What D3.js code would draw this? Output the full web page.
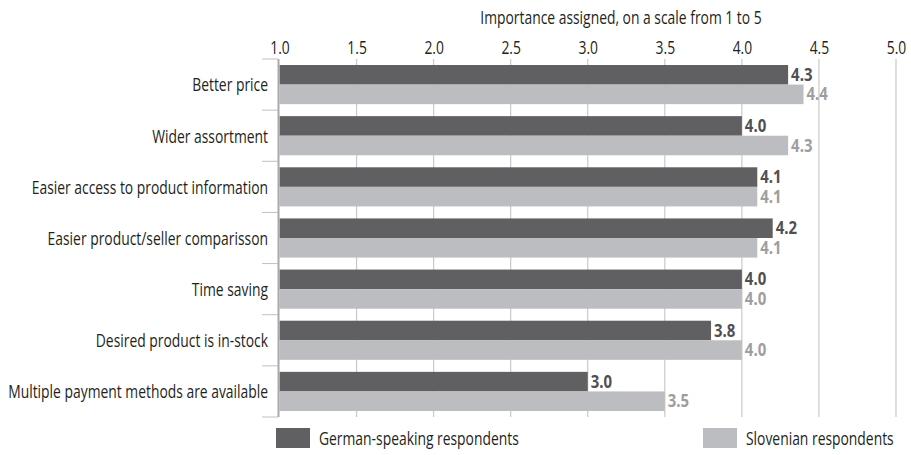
<!DOCTYPE html>
<html>
<head>
<meta charset="utf-8">
<script src="https://cdn.jsdelivr.net/npm/d3@7"></script>
<style>
  html, body { margin: 0; padding: 0; background: #fff; }
  svg { display: block; }
  text { font-family: "Open Sans", "Noto Sans", sans-serif; }
</style>
</head>
<body>
<svg id="chart" width="911" height="455"></svg>
<script>
// Reasons for shopping online, importance on a 1–5 scale
const categories = [
  "Better price",
  "Wider assortment",
  "Easier access to product information",
  "Easier product/seller comparisson",
  "Time saving",
  "Desired product is in-stock",
  "Multiple payment methods are available"
];
const germanValues = [4.3, 4.0, 4.1, 4.2, 4.0, 3.8, 3.0];
const slovenianValues = [4.4, 4.3, 4.1, 4.1, 4.0, 4.0, 3.5];
const seriesNames = ["German-speaking respondents", "Slovenian respondents"];
const xTicks = [1.0, 1.5, 2.0, 2.5, 3.0, 3.5, 4.0, 4.5, 5.0];
const axisTitle = "Importance assigned, on a scale from 1 to 5";

const colors = { de: "#606062", sl: "#bcbdc0" };
const labelColors = { de: "#505052", sl: "#9d9ea1" };
const textColor = "#231f20";

const svg = d3.select("#chart");

// Narrow a text selection horizontally around its anchor to mimic a condensed face
function condense(sel, factor) {
  sel.each(function () {
    const ax = +(this.getAttribute("x") || 0);
    d3.select(this).attr("transform", `translate(${ax},0) scale(${factor},1) translate(${-ax},0)`);
  });
}

const x = d3.scaleLinear().domain([1, 5]).range([279.5, 896]);
const y = d3.scaleBand().domain(categories).range([59, 417])
  .paddingInner(0.2346).paddingOuter(0.1173);
const sub = d3.scaleBand().domain(["de", "sl"]).range([0, y.bandwidth()]);

const rows = categories.map((c, i) => ({
  cat: c,
  vals: [{ key: "de", v: germanValues[i] }, { key: "sl", v: slovenianValues[i] }]
}));

// vertical gridlines
svg.append("g").selectAll("line").data(xTicks.slice(1)).join("line")
  .attr("x1", d => x(d)).attr("x2", d => x(d))
  .attr("y1", 59).attr("y2", 417)
  .attr("stroke", "#c9c9cb").attr("stroke-width", 1.2);

// top axis with tick labels
const axis = svg.append("g").attr("transform", "translate(0,54)")
  .call(d3.axisTop(x).tickValues(xTicks).tickFormat(d3.format(".1f")).tickSize(0).tickPadding(0));
axis.select(".domain").remove();
const tickText = axis.selectAll("text")
  .style("font-family", "\"Open Sans\", \"Noto Sans\", sans-serif")
  .attr("font-size", 19).attr("fill", textColor);

const title = svg.append("text").attr("x", 621).attr("y", 24)
  .attr("text-anchor", "middle").attr("font-size", 19).attr("fill", textColor)
  .text(axisTitle);

// bars
const groups = svg.append("g").selectAll("g").data(rows).join("g")
  .attr("transform", d => `translate(0,${y(d.cat)})`);

groups.selectAll("rect").data(d => d.vals).join("rect")
  .attr("x", x(1)).attr("y", d => sub(d.key))
  .attr("width", d => x(d.v) - x(1)).attr("height", sub.bandwidth())
  .attr("fill", d => colors[d.key]);

const valText = groups.selectAll("text.val").data(d => d.vals).join("text")
  .attr("class", "val")
  .attr("x", d => x(d.v) + 3).attr("y", d => sub(d.key) + sub.bandwidth() / 2)
  .attr("dy", "0.36em").attr("font-size", 17).attr("font-weight", "bold")
  .attr("fill", d => labelColors[d.key])
  .text(d => d.v.toFixed(1));

// category axis: line, separators and labels
svg.append("line").attr("x1", 278.5).attr("x2", 278.5).attr("y1", 59).attr("y2", 417)
  .attr("stroke", "#a9a9ab").attr("stroke-width", 2);
const step = y.step();
svg.append("g").selectAll("line").data(d3.range(categories.length + 1)).join("line")
  .attr("x1", 262).attr("x2", 278)
  .attr("y1", i => 59 + i * step).attr("y2", i => 59 + i * step)
  .attr("stroke", "#c0c0c2").attr("stroke-width", 1);
const catText = svg.append("g").selectAll("text").data(categories).join("text")
  .attr("x", 268).attr("y", d => y(d) + y.bandwidth() / 2)
  .attr("dy", "0.36em").attr("text-anchor", "end")
  .attr("font-size", 19).attr("fill", textColor)
  .text(d => d);

// legend
const legendX = [276, 703];
const legend = svg.append("g").selectAll("g").data(["de", "sl"]).join("g")
  .attr("transform", (d, i) => `translate(${legendX[i]},428)`);
legend.append("rect").attr("width", 34).attr("height", 20).attr("fill", d => colors[d]);
const legendText = legend.append("text").attr("x", 43).attr("y", 10).attr("dy", "0.36em")
  .attr("font-size", 19).attr("fill", textColor)
  .text((d, i) => seriesNames[i]);

// condensed look: scale from the widest category label
const longest = catText.filter((d, i) => i === categories.length - 1).node().getComputedTextLength();
const f = 260 / longest;
[tickText, title, catText, legendText].forEach(s => condense(s, f));
condense(valText, 0.88);
</script>
</body>
</html>
